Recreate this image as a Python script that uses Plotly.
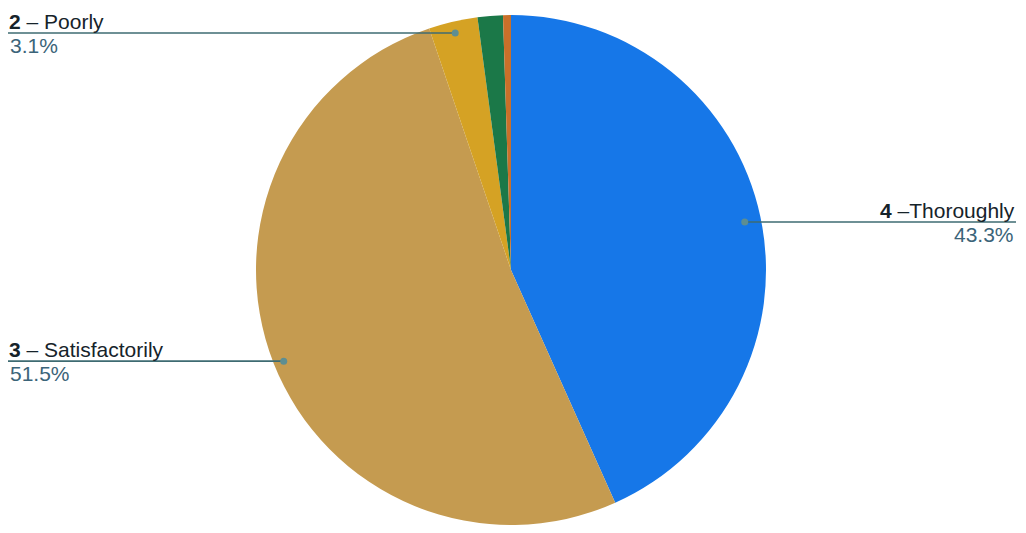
import math
import plotly.graph_objects as go

# ---- data ----
categories = ["4 –Thoroughly", "3 – Satisfactorily", "2 – Poorly", "1 – Not at all", "No answer"]
label_num = ["4", "3", "2", "1", ""]
label_rest = [" –Thoroughly", " – Satisfactorily", " – Poorly", " – Not at all", "No answer"]
values = [43.3, 51.5, 3.1, 1.6, 0.5]
pct_labels = ["43.3%", "51.5%", "3.1%", "1.6%", "0.5%"]

# ---- styles ----
colors = ["#1677E8", "#C59B50", "#D5A224", "#1B7848", "#C9702A"]
label_side = ["right", "left", "left", None, None]
dot_frac = [0.93, 0.95, 0.955, None, None]

OFF = 8                      # page body margin
W, H = 1026 - 2 * OFF, 533 - 2 * OFF
CX, CY, R = 511 - OFF, 272 - OFF, 257
LEFT_END, RIGHT_END = 8 - OFF, 1016 - OFF
FONT = "Liberation Sans, Arial, sans-serif"

fig = go.Figure(go.Pie(
    labels=categories,
    values=values,
    sort=False,
    direction="clockwise",
    rotation=0,
    marker=dict(colors=colors, line=dict(width=0)),
    textinfo="none",
    hoverinfo="label+percent",
    domain=dict(x=[(CX - R) / W, (CX + R) / W],
                y=[max(0, 1 - (CY + R) / H), 1 - (CY - R) / H]),
    showlegend=False,
))

total = sum(values)
cum = 0.0
shapes = []
annotations = []
for i, v in enumerate(values):
    mid = (cum + v / 2) / total * 2 * math.pi
    cum += v
    if label_side[i] is None:
        continue
    f = dot_frac[i]
    px = CX + f * R * math.sin(mid)
    py = CY - f * R * math.cos(mid)
    end = RIGHT_END if label_side[i] == "right" else LEFT_END
    yp = 1 - py / H
    shapes.append(dict(type="line", xref="paper", yref="paper",
                       x0=px / W, x1=end / W, y0=yp, y1=yp,
                       line=dict(color="#3E6B72", width=1.6)))
    rd = 3.5
    shapes.append(dict(type="circle", xref="paper", yref="paper",
                       x0=(px - rd) / W, x1=(px + rd) / W,
                       y0=1 - (py + rd) / H, y1=1 - (py - rd) / H,
                       fillcolor="#5D8E92", line=dict(width=0)))
    anchor = "right" if label_side[i] == "right" else "left"
    annotations.append(dict(xref="paper", yref="paper", x=end / W, y=yp,
                            xanchor=anchor, yanchor="bottom", yshift=-1,
                            borderpad=0, showarrow=False,
                            text=f"<b>{label_num[i]}</b>{label_rest[i]}",
                            font=dict(family=FONT, size=21, color="#16232A")))
    annotations.append(dict(xref="paper", yref="paper", x=end / W, y=yp,
                            xanchor=anchor, yanchor="top", yshift=1,
                            showarrow=False, text=pct_labels[i],
                            font=dict(family=FONT, size=21, color="#3B6479")))

fig.update_layout(
    width=W, height=H,
    margin=dict(l=0, r=0, t=0, b=0),
    paper_bgcolor="white",
    plot_bgcolor="white",
    shapes=shapes,
    annotations=annotations,
)

fig.write_html("out.html")
